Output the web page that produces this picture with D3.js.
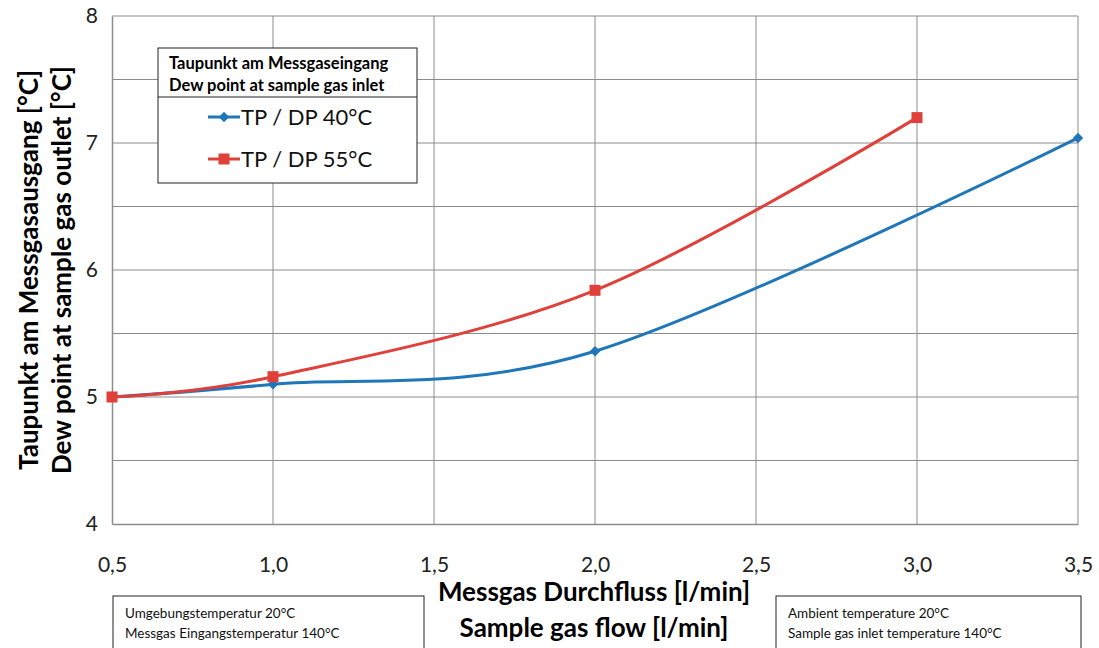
<!DOCTYPE html>
<html>
<head>
<meta charset="utf-8">
<script src="https://cdn.jsdelivr.net/npm/d3@7"></script>
<style>
body { margin: 0; background: #fff; }
text { font-family: Lato, "Open Sans", sans-serif; }
</style>
</head>
<body>
<script>
// data
var flow40 = [0.5, 1.0, 2.0, 3.5];
var dew40 = [5.0, 5.1, 5.36, 7.04];
var flow55 = [0.5, 1.0, 2.0, 3.0];
var dew55 = [5.0, 5.16, 5.84, 7.2];
var xTicks = [0.5, 1.0, 1.5, 2.0, 2.5, 3.0, 3.5];
var yTicks = [4, 5, 6, 7, 8];
var yGrid = [4.5, 5, 5.5, 6, 6.5, 7, 7.5, 8];
var seriesNames = ["TP / DP 40°C", "TP / DP 55°C"];
var seriesColors = ["#1f77b9", "#e0403a"];

var width = 1099, height = 648;
var svg = d3.select("body").append("svg").attr("width", width).attr("height", height);

var x = d3.scaleLinear().domain([0.5, 3.5]).range([112, 1078]);
var y = d3.scaleLinear().domain([4, 8]).range([524, 16]);

// grid
svg.append("g").selectAll("line").data(yGrid).enter().append("line")
   .attr("x1", x(0.5)).attr("x2", x(3.5))
   .attr("y1", function (d) { return y(d); }).attr("y2", function (d) { return y(d); })
   .attr("stroke", "#8c8c8c").attr("stroke-width", 1);
svg.append("g").selectAll("line").data(xTicks.slice(1)).enter().append("line")
   .attr("x1", function (d) { return x(d); }).attr("x2", function (d) { return x(d); })
   .attr("y1", y(4)).attr("y2", y(8))
   .attr("stroke", "#8c8c8c").attr("stroke-width", 1);

// axes
var xAxis = svg.append("g").attr("transform", "translate(0," + y(4) + ")")
   .call(d3.axisBottom(x).tickValues(xTicks).tickSize(0).tickPadding(33)
   .tickFormat(function (d) { return d3.format(".1f")(d).replace(".", ","); }));
var yAxis = svg.append("g").attr("transform", "translate(" + x(0.5) + ",0)")
   .call(d3.axisLeft(y).tickValues(yTicks).tickSize(0).tickPadding(14).tickFormat(d3.format("d")));
[xAxis, yAxis].forEach(function (a) {
    a.select(".domain").attr("stroke", "#8c8c8c").attr("stroke-width", 1.5);
    a.selectAll("text").attr("font-size", 21).attr("fill", "#222")
     .style("font-family", "Lato, 'Open Sans', sans-serif");
});

// lines
var line = d3.line().x(function (d) { return x(d[0]); }).y(function (d) { return y(d[1]); })
   .curve(d3.curveCatmullRom.alpha(0));
var data40 = flow40.map(function (f, i) { return [f, dew40[i]]; });
var data55 = flow55.map(function (f, i) { return [f, dew55[i]]; });

svg.append("path").datum(data40).attr("d", line).attr("fill", "none")
   .attr("stroke", seriesColors[0]).attr("stroke-width", 3);
svg.append("g").selectAll("path").data(data40).enter().append("path")
   .attr("d", d3.symbol().type(d3.symbolDiamond2).size(70))
   .attr("transform", function (d) { return "translate(" + x(d[0]) + "," + y(d[1]) + ")"; })
   .attr("fill", seriesColors[0]);

svg.append("path").datum(data55).attr("d", line).attr("fill", "none")
   .attr("stroke", seriesColors[1]).attr("stroke-width", 3);
svg.append("g").selectAll("rect").data(data55).enter().append("rect")
   .attr("x", function (d) { return x(d[0]) - 5.5; })
   .attr("y", function (d) { return y(d[1]) - 5.5; })
   .attr("width", 11).attr("height", 11)
   .attr("fill", seriesColors[1]);

// legend
var lg = svg.append("g").attr("transform", "translate(158,48)");
lg.append("rect").attr("width", 259).attr("height", 135).attr("fill", "#fff").attr("stroke", "#222");
lg.append("line").attr("x1", 0).attr("x2", 259).attr("y1", 49).attr("y2", 49).attr("stroke", "#222");
lg.append("text").attr("x", 11).attr("y", 21).attr("font-size", 16.5).attr("font-weight", "bold")
  .text("Taupunkt am Messgaseingang");
lg.append("text").attr("x", 11).attr("y", 43).attr("font-size", 16.5).attr("font-weight", "bold")
  .text("Dew point at sample gas inlet");
seriesNames.forEach(function (name, i) {
    var ly = 69 + i * 42;
    lg.append("line").attr("x1", 50).attr("x2", 82).attr("y1", ly).attr("y2", ly)
      .attr("stroke", seriesColors[i]).attr("stroke-width", 3);
    if (i === 0) {
        lg.append("path").attr("d", d3.symbol().type(d3.symbolDiamond2).size(70))
          .attr("transform", "translate(66," + ly + ")").attr("fill", seriesColors[i]);
    } else {
        lg.append("rect").attr("x", 60.5).attr("y", ly - 5.5).attr("width", 11).attr("height", 11)
          .attr("fill", seriesColors[i]);
    }
    lg.append("text").attr("x", 83).attr("y", ly + 8).attr("font-size", 22).attr("fill", "#111").text(name);
});

// axis titles
svg.append("text").attr("x", 594).attr("y", 601).attr("text-anchor", "middle")
   .attr("font-size", 26).attr("font-weight", "bold").text("Messgas Durchfluss [l/min]");
svg.append("text").attr("x", 594).attr("y", 637).attr("text-anchor", "middle")
   .attr("font-size", 26).attr("font-weight", "bold").text("Sample gas flow [l/min]");
var yt = svg.append("g").attr("transform", "translate(0,270) rotate(-90)");
yt.append("text").attr("x", 0).attr("y", 38).attr("text-anchor", "middle")
  .attr("font-size", 26).attr("font-weight", "bold").text("Taupunkt am Messgasausgang [°C]");
yt.append("text").attr("x", 0).attr("y", 71).attr("text-anchor", "middle")
  .attr("font-size", 26).attr("font-weight", "bold").text("Dew point at sample gas outlet [°C]");

// note boxes
var notes = [
    { x: 113, w: 311, lines: ["Umgebungstemperatur 20°C", "Messgas Eingangstemperatur 140°C"] },
    { x: 776, w: 305, lines: ["Ambient temperature 20°C", "Sample gas inlet temperature 140°C"] }
];
notes.forEach(function (n) {
    var g = svg.append("g").attr("transform", "translate(" + n.x + ",596)");
    g.append("rect").attr("width", n.w).attr("height", 60).attr("fill", "#fff").attr("stroke", "#222");
    n.lines.forEach(function (t, i) {
        g.append("text").attr("x", 12).attr("y", 22 + i * 20).attr("font-size", 13.5).attr("fill", "#111").text(t);
    });
});
</script>
</body>
</html>
